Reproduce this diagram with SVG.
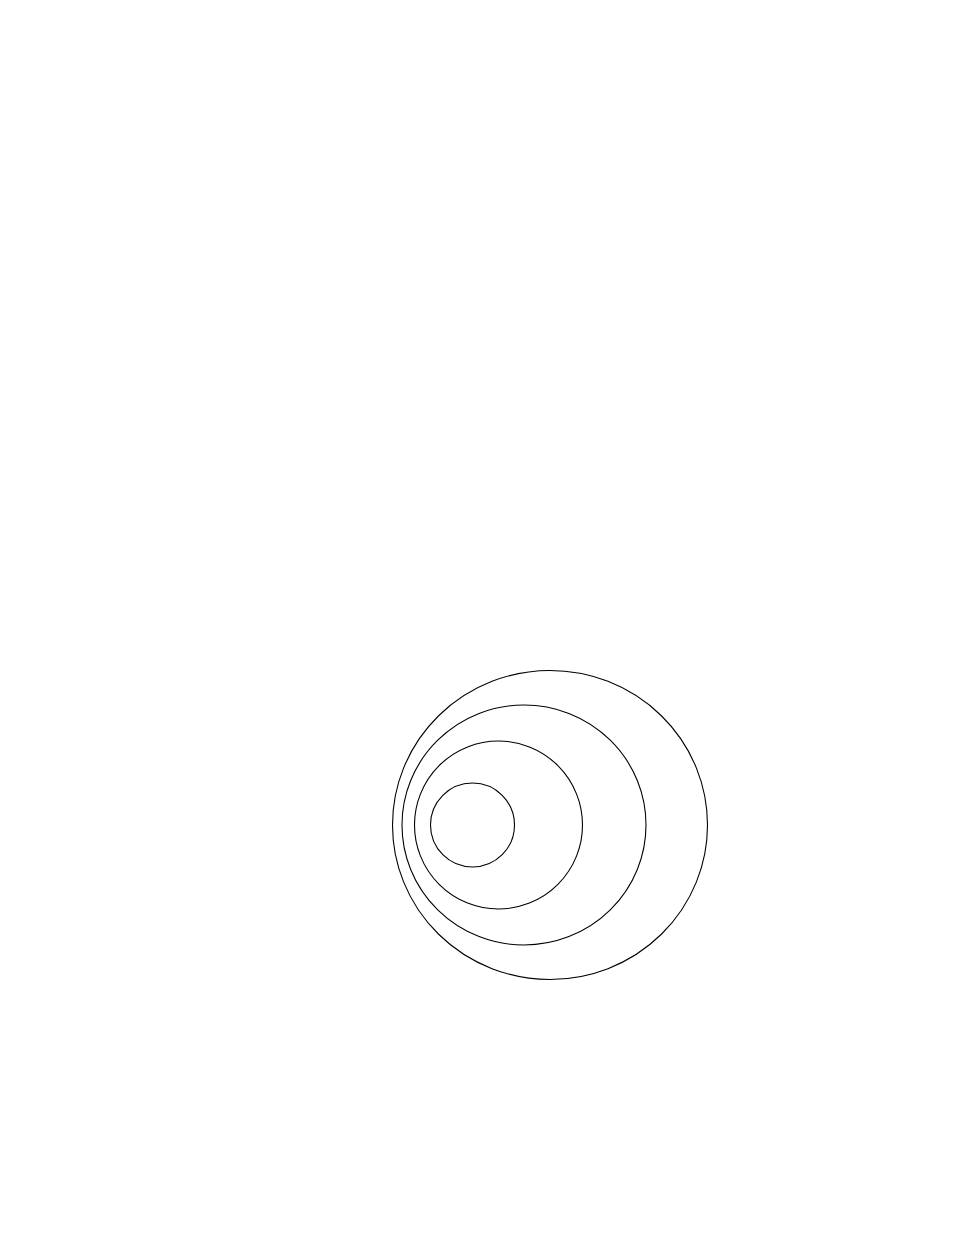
<svg xmlns="http://www.w3.org/2000/svg" width="954" height="1235" viewBox="0 0 954 1235">
<style>
.ring{fill:none;stroke:#000;stroke-width:1.1}
</style>
<rect width="954" height="1235" fill="#fff"/>
<g id="ring1"><ellipse class="ring" cx="550" cy="825" rx="157.5" ry="154.5"/></g>
<g id="ring2"><ellipse class="ring" cx="524" cy="825" rx="122" ry="120"/></g>
<g id="ring3"><ellipse class="ring" cx="498.5" cy="825" rx="84" ry="84"/></g>
<g id="ring4"><ellipse class="ring" cx="472.5" cy="825" rx="42" ry="42"/></g>
</svg>
